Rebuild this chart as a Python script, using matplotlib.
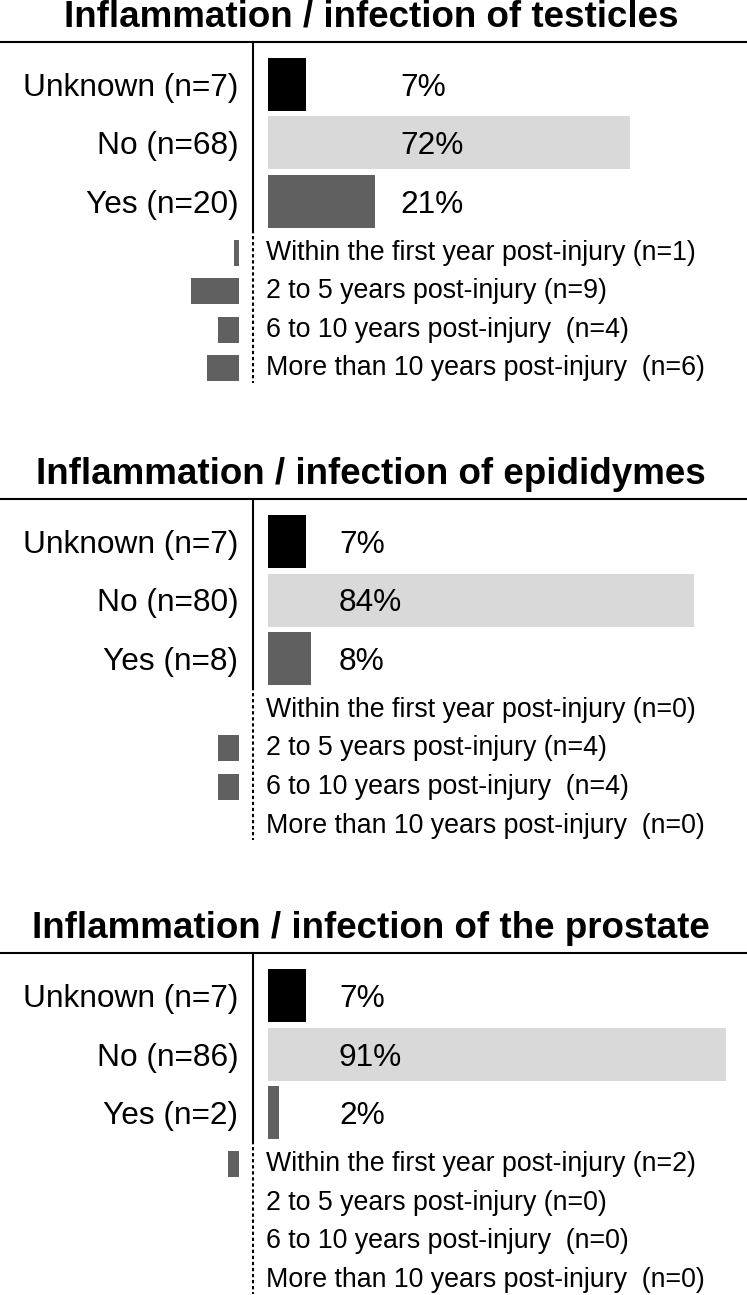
import matplotlib
matplotlib.use("Agg")
import matplotlib.pyplot as plt

plt.rcParams["font.family"] = ["Liberation Sans", "DejaVu Sans"]

# ===== DATA =====
TOTAL_N = 95
TITLES = ["Inflammation / infection of testicles",
          "Inflammation / infection of epididymes",
          "Inflammation / infection of the prostate"]
MAIN_CATS = ["Unknown", "No", "Yes"]
SUB_CATS = ["Within the first year post-injury ",
            "2 to 5 years post-injury ",
            "6 to 10 years post-injury  ",
            "More than 10 years post-injury  "]

N_TESTICLES = [7, 68, 20]
N_EPIDIDYMES = [7, 80, 8]
N_PROSTATE = [7, 86, 2]
PCT_TESTICLES = ["7%", "72%", "21%"]
PCT_EPIDIDYMES = ["7%", "84%", "8%"]
PCT_PROSTATE = ["7%", "91%", "2%"]
SUB_TESTICLES = [1, 9, 4, 6]
SUB_EPIDIDYMES = [0, 4, 4, 0]
SUB_PROSTATE = [2, 0, 0, 0]

PANELS = [
    (TITLES[0], N_TESTICLES, PCT_TESTICLES, SUB_TESTICLES),
    (TITLES[1], N_EPIDIDYMES, PCT_EPIDIDYMES, SUB_EPIDIDYMES),
    (TITLES[2], N_PROSTATE, PCT_PROSTATE, SUB_PROSTATE),
]

# ===== LAYOUT (pixels) =====
W, H = 747, 1295
ORIGIN_PX = 268.3          # left edge of the main bars
PX_PER_PCT = 5.06
SUB_ORIGIN_PX = 239.0      # right edge of the sub bars
DIVIDER_PX = 253.3
PANEL_TOP = [41.7, 499.0, 953.3]
PCT_TEXT_PX = [400, 339, 339]
MAIN_COLORS = ["#000000", "#d9d9d9", "#606060"]
SUB_COLOR = "#606060"
FS_TITLE = 26.5
FS_MAIN = 22.8
FS_SUB = 19.3


def xp(px):
    return (px - ORIGIN_PX) / PX_PER_PCT


fig = plt.figure(figsize=(W / 100, H / 100), dpi=100)
ax = fig.add_axes([0, 0, 1, 1])
ax.set_xlim(xp(0), xp(W))
ax.set_ylim(H, 0)
ax.axis("off")

main_px = FS_MAIN / 0.72

for i, (title, counts, pct_txt, sub) in enumerate(PANELS):
    top = PANEL_TOP[i]
    ys = [top + 42.5 + 58.5 * k for k in range(len(counts))]
    pct = [100.0 * n / TOTAL_N for n in counts]
    ax.barh(ys, pct, height=53, left=0, color=MAIN_COLORS)

    sub_ys = [top + 210.8 + 38.6 * k for k in range(len(sub))]
    sub_pct = [-100.0 * n / TOTAL_N for n in sub]
    ax.barh(sub_ys, sub_pct, height=26, left=xp(SUB_ORIGIN_PX), color=SUB_COLOR)

    # rules
    ax.axhline(top, color="black", lw=1.5)
    ax.plot([xp(DIVIDER_PX)] * 2, [top, top + 187], color="black", lw=1.5)
    ax.plot([xp(DIVIDER_PX)] * 2, [top + 188, top + 341], color="black",
            lw=1.5, ls=(0, (1.6, 1.3)))

    ax.text(xp(371), top - 15, title, ha="center", va="baseline",
            fontsize=FS_TITLE, fontweight="bold")

    for y, cat, n, t in zip(ys, MAIN_CATS, counts, pct_txt):
        base = y + 0.358 * main_px
        ax.text(xp(238.3), base, f"{cat} (n={n})", ha="right", va="baseline",
                fontsize=FS_MAIN)
        ax.text(xp(PCT_TEXT_PX[i]), base, t, ha="left", va="baseline",
                fontsize=FS_MAIN)

    for y, cat, n in zip(sub_ys, SUB_CATS, sub):
        ax.text(xp(266), y + 7, f"{cat}(n={n})", ha="left",
                va="baseline", fontsize=FS_SUB)

fig.savefig("out.png", dpi=100)
